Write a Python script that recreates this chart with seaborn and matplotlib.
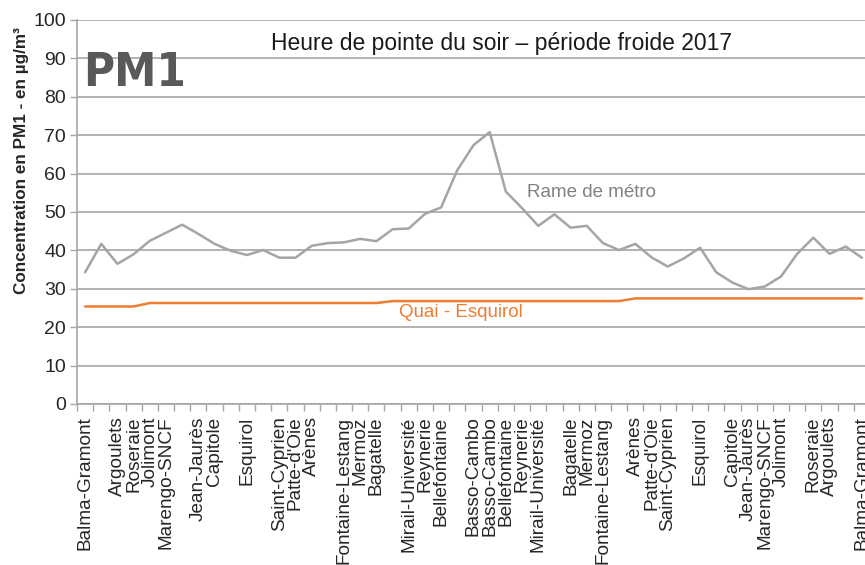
import matplotlib
matplotlib.use("Agg")
import matplotlib.pyplot as plt
import seaborn as sns
import pandas as pd
import numpy as np

stations = ["Balma-Gramont", "", "Argoulets", "Roseraie", "Jolimont", "Marengo-SNCF", "",
            "Jean-Jaurès", "Capitole", "", "Esquirol", "", "Saint-Cyprien", "Patte-d'Oie",
            "Arènes", "", "Fontaine-Lestang", "Mermoz", "Bagatelle", "", "Mirail-Université",
            "Reynerie", "Bellefontaine", "", "Basso-Cambo", "Basso-Cambo", "Bellefontaine",
            "Reynerie", "Mirail-Université", "", "Bagatelle", "Mermoz", "Fontaine-Lestang", "",
            "Arènes", "Patte-d'Oie", "Saint-Cyprien", "", "Esquirol", "", "Capitole",
            "Jean-Jaurès", "Marengo-SNCF", "Jolimont", "", "Roseraie", "Argoulets", "",
            "Balma-Gramont"]

rame = [34.3, 41.7, 36.5, 39.0, 42.5, 44.6, 46.7, 44.3, 41.7, 39.9, 38.8, 40.1, 38.1, 38.1,
        41.2, 41.9, 42.1, 43.0, 42.4, 45.5, 45.7, 49.5, 51.2, 60.9, 67.4, 70.8, 55.3, 51.0,
        46.4, 49.4, 45.9, 46.4, 41.9, 40.1, 41.7, 38.2, 35.8, 37.9, 40.7, 34.3, 31.6, 29.9,
        30.6, 33.2, 39.1, 43.3, 39.1, 41.0, 38.1]

quai = [25.4] * 4 + [26.3] * 15 + [26.8] * 15 + [27.5] * 15

df = pd.DataFrame({"idx": np.arange(len(stations)), "rame": rame, "quai": quai})

sns.set_theme(style="white")
plt.rcParams['font.family'] = ['Liberation Sans', 'DejaVu Sans']

fig = plt.figure(figsize=(8.65, 5.65), dpi=100)
ax = fig.add_axes([77 / 865, 1 - 404 / 565, (870 - 77) / 865, (404 - 20) / 565])

sns.lineplot(data=df, x="idx", y="rame", ax=ax, color="#a5a5a5", linewidth=1.8)
sns.lineplot(data=df, x="idx", y="quai", ax=ax, color="#ed7d31", linewidth=1.8)

ax.set_xlim(-0.5, len(stations) - 0.5)
ax.set_ylim(0, 100)
ax.set_yticks(np.arange(0, 101, 10))
ax.yaxis.grid(True, color="#a6a6a6", linewidth=1.2)
ax.set_axisbelow(True)

ax.set_xticks(np.arange(len(stations)))
ax.set_xticklabels(stations, rotation=90, fontsize=13.7)
ax.set_xticks(np.arange(len(stations) + 1) - 0.5, minor=True)
ax.tick_params(axis="x", which="major", length=0, pad=9)
ax.tick_params(axis="x", which="minor", length=5, color="#a6a6a6", width=1, bottom=True)
ax.tick_params(axis="y", length=5, color="#a6a6a6", width=1, left=True, labelsize=14, pad=3)

for s in ["top", "right"]:
    ax.spines[s].set_visible(False)
for s in ["left", "bottom"]:
    ax.spines[s].set_color("#a6a6a6")
    ax.spines[s].set_linewidth(1.2)

ax.set_xlabel("")
ax.set_ylabel("Concentration en PM1 - en µg/m³", fontsize=12.3, fontweight="bold")
ax.yaxis.set_label_coords(-0.06, 0.635)

ax.text(0.535, 0.94, "Heure de pointe du soir – période froide 2017", transform=ax.transAxes,
        ha="center", va="center", fontsize=16.5, color="#1a1a1a",
        bbox=dict(facecolor="white", edgecolor="none", pad=2))
ax.text(0.008, 0.86, "PM1", transform=ax.transAxes, ha="left", va="center",
        fontsize=34, fontweight="bold", fontstretch="condensed", color="#595959",
        family=["DejaVu Sans"])
ax.text(31.3, 55.0, "Rame de métro", ha="center", va="center", fontsize=13.5, color="#808080")
ax.text(23.2, 23.7, "Quai - Esquirol", ha="center", va="center", fontsize=13.5, color="#ed7d31")

fig.savefig("out.png", dpi=100)
